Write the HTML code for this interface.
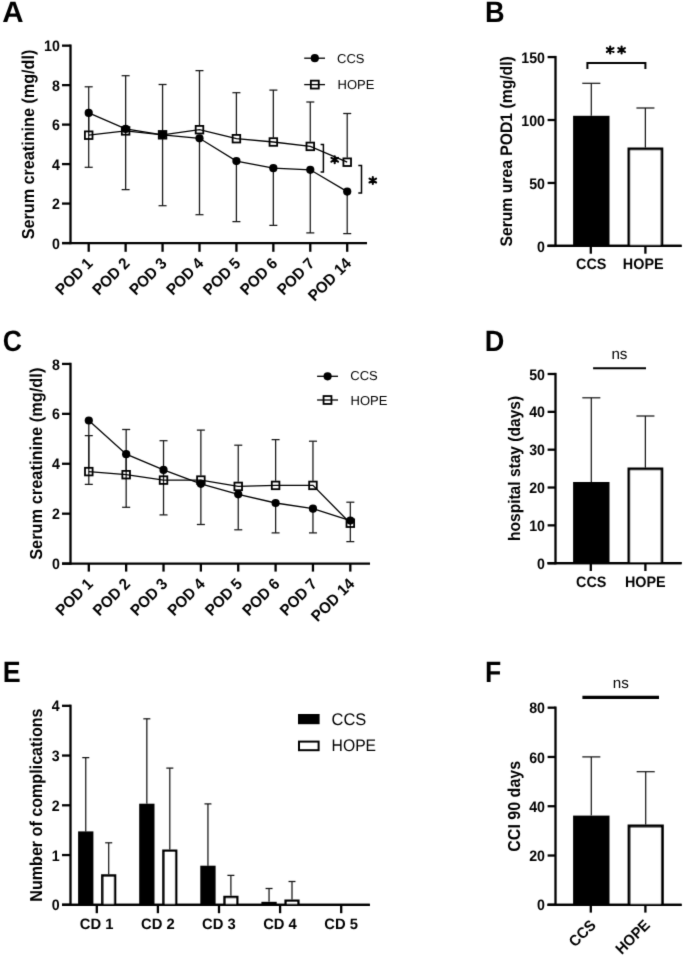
<!DOCTYPE html>
<html><head><meta charset="utf-8"><style>
html,body{margin:0;padding:0;background:#fff;}
svg{display:block;font-family:"Liberation Sans", sans-serif;will-change:transform;text-rendering:geometricPrecision;}
</style></head><body>
<svg width="685" height="958" viewBox="0 0 685 958">
<defs><filter id="soft" x="0" y="0" width="685" height="958" filterUnits="userSpaceOnUse"><feConvolveMatrix order="3" kernelMatrix="0.0114 0.0841 0.0114 0.0841 0.6180 0.0841 0.0114 0.0841 0.0114" edgeMode="duplicate" preserveAlpha="false"/></filter></defs>
<rect width="685" height="958" fill="#fff"/>
<g filter="url(#soft)">
<line x1="62.00" y1="243.05" x2="367.00" y2="243.05" stroke="#000" stroke-width="2.3" stroke-linecap="butt"/>
<line x1="70.50" y1="44.50" x2="70.50" y2="244.20" stroke="#000" stroke-width="2.3" stroke-linecap="butt"/>
<line x1="62.00" y1="243.05" x2="70.50" y2="243.05" stroke="#000" stroke-width="2.3" stroke-linecap="butt"/>
<text transform="translate(59.90 248.70) scale(0.935 1)" font-size="15.2" font-weight="bold" text-anchor="end">0</text>
<line x1="62.00" y1="203.57" x2="70.50" y2="203.57" stroke="#000" stroke-width="2.3" stroke-linecap="butt"/>
<text transform="translate(59.90 209.22) scale(0.935 1)" font-size="15.2" font-weight="bold" text-anchor="end">2</text>
<line x1="62.00" y1="164.09" x2="70.50" y2="164.09" stroke="#000" stroke-width="2.3" stroke-linecap="butt"/>
<text transform="translate(59.90 169.74) scale(0.935 1)" font-size="15.2" font-weight="bold" text-anchor="end">4</text>
<line x1="62.00" y1="124.61" x2="70.50" y2="124.61" stroke="#000" stroke-width="2.3" stroke-linecap="butt"/>
<text transform="translate(59.90 130.26) scale(0.935 1)" font-size="15.2" font-weight="bold" text-anchor="end">6</text>
<line x1="62.00" y1="85.13" x2="70.50" y2="85.13" stroke="#000" stroke-width="2.3" stroke-linecap="butt"/>
<text transform="translate(59.90 90.78) scale(0.935 1)" font-size="15.2" font-weight="bold" text-anchor="end">8</text>
<line x1="62.00" y1="45.65" x2="70.50" y2="45.65" stroke="#000" stroke-width="2.3" stroke-linecap="butt"/>
<text transform="translate(59.90 51.30) scale(0.935 1)" font-size="15.2" font-weight="bold" text-anchor="end">10</text>
<line x1="88.70" y1="130.60" x2="88.70" y2="86.80" stroke="#151515" stroke-width="1.25" stroke-linecap="butt"/>
<line x1="88.70" y1="112.90" x2="88.70" y2="167.30" stroke="#151515" stroke-width="1.25" stroke-linecap="butt"/>
<line x1="84.70" y1="86.80" x2="92.70" y2="86.80" stroke="#151515" stroke-width="1.25" stroke-linecap="butt"/>
<line x1="84.70" y1="167.30" x2="92.70" y2="167.30" stroke="#151515" stroke-width="1.25" stroke-linecap="butt"/>
<line x1="125.63" y1="126.30" x2="125.63" y2="75.70" stroke="#151515" stroke-width="1.25" stroke-linecap="butt"/>
<line x1="125.63" y1="128.90" x2="125.63" y2="189.60" stroke="#151515" stroke-width="1.25" stroke-linecap="butt"/>
<line x1="121.63" y1="75.70" x2="129.63" y2="75.70" stroke="#151515" stroke-width="1.25" stroke-linecap="butt"/>
<line x1="121.63" y1="189.60" x2="129.63" y2="189.60" stroke="#151515" stroke-width="1.25" stroke-linecap="butt"/>
<line x1="162.56" y1="130.20" x2="162.56" y2="84.50" stroke="#151515" stroke-width="1.25" stroke-linecap="butt"/>
<line x1="162.56" y1="134.80" x2="162.56" y2="205.70" stroke="#151515" stroke-width="1.25" stroke-linecap="butt"/>
<line x1="158.56" y1="84.50" x2="166.56" y2="84.50" stroke="#151515" stroke-width="1.25" stroke-linecap="butt"/>
<line x1="158.56" y1="205.70" x2="166.56" y2="205.70" stroke="#151515" stroke-width="1.25" stroke-linecap="butt"/>
<line x1="199.49" y1="125.10" x2="199.49" y2="70.60" stroke="#151515" stroke-width="1.25" stroke-linecap="butt"/>
<line x1="199.49" y1="138.30" x2="199.49" y2="214.70" stroke="#151515" stroke-width="1.25" stroke-linecap="butt"/>
<line x1="195.49" y1="70.60" x2="203.49" y2="70.60" stroke="#151515" stroke-width="1.25" stroke-linecap="butt"/>
<line x1="195.49" y1="214.70" x2="203.49" y2="214.70" stroke="#151515" stroke-width="1.25" stroke-linecap="butt"/>
<line x1="236.42" y1="134.10" x2="236.42" y2="92.70" stroke="#151515" stroke-width="1.25" stroke-linecap="butt"/>
<line x1="236.42" y1="161.10" x2="236.42" y2="221.60" stroke="#151515" stroke-width="1.25" stroke-linecap="butt"/>
<line x1="232.42" y1="92.70" x2="240.42" y2="92.70" stroke="#151515" stroke-width="1.25" stroke-linecap="butt"/>
<line x1="232.42" y1="221.60" x2="240.42" y2="221.60" stroke="#151515" stroke-width="1.25" stroke-linecap="butt"/>
<line x1="273.35" y1="137.40" x2="273.35" y2="90.10" stroke="#151515" stroke-width="1.25" stroke-linecap="butt"/>
<line x1="273.35" y1="168.20" x2="273.35" y2="225.40" stroke="#151515" stroke-width="1.25" stroke-linecap="butt"/>
<line x1="269.35" y1="90.10" x2="277.35" y2="90.10" stroke="#151515" stroke-width="1.25" stroke-linecap="butt"/>
<line x1="269.35" y1="225.40" x2="277.35" y2="225.40" stroke="#151515" stroke-width="1.25" stroke-linecap="butt"/>
<line x1="310.28" y1="141.80" x2="310.28" y2="102.00" stroke="#151515" stroke-width="1.25" stroke-linecap="butt"/>
<line x1="310.28" y1="169.80" x2="310.28" y2="232.90" stroke="#151515" stroke-width="1.25" stroke-linecap="butt"/>
<line x1="306.28" y1="102.00" x2="314.28" y2="102.00" stroke="#151515" stroke-width="1.25" stroke-linecap="butt"/>
<line x1="306.28" y1="232.90" x2="314.28" y2="232.90" stroke="#151515" stroke-width="1.25" stroke-linecap="butt"/>
<line x1="347.21" y1="157.60" x2="347.21" y2="113.50" stroke="#151515" stroke-width="1.25" stroke-linecap="butt"/>
<line x1="347.21" y1="191.60" x2="347.21" y2="233.60" stroke="#151515" stroke-width="1.25" stroke-linecap="butt"/>
<line x1="343.21" y1="113.50" x2="351.21" y2="113.50" stroke="#151515" stroke-width="1.25" stroke-linecap="butt"/>
<line x1="343.21" y1="233.60" x2="351.21" y2="233.60" stroke="#151515" stroke-width="1.25" stroke-linecap="butt"/>
<line x1="88.70" y1="243.05" x2="88.70" y2="251.80" stroke="#000" stroke-width="2.3" stroke-linecap="butt"/>
<line x1="125.63" y1="243.05" x2="125.63" y2="251.80" stroke="#000" stroke-width="2.3" stroke-linecap="butt"/>
<line x1="162.56" y1="243.05" x2="162.56" y2="251.80" stroke="#000" stroke-width="2.3" stroke-linecap="butt"/>
<line x1="199.49" y1="243.05" x2="199.49" y2="251.80" stroke="#000" stroke-width="2.3" stroke-linecap="butt"/>
<line x1="236.42" y1="243.05" x2="236.42" y2="251.80" stroke="#000" stroke-width="2.3" stroke-linecap="butt"/>
<line x1="273.35" y1="243.05" x2="273.35" y2="251.80" stroke="#000" stroke-width="2.3" stroke-linecap="butt"/>
<line x1="310.28" y1="243.05" x2="310.28" y2="251.80" stroke="#000" stroke-width="2.3" stroke-linecap="butt"/>
<line x1="347.21" y1="243.05" x2="347.21" y2="251.80" stroke="#000" stroke-width="2.3" stroke-linecap="butt"/>
<polyline fill="none" stroke="#000" stroke-width="1.3" points="88.70,112.90 125.63,128.90 162.56,134.80 199.49,138.30 236.42,161.10 273.35,168.20 310.28,169.80 347.21,191.60"/>
<polyline fill="none" stroke="#000" stroke-width="1.3" points="88.70,135.20 125.63,130.90 162.56,134.80 199.49,129.70 236.42,138.70 273.35,142.00 310.28,146.40 347.21,162.20"/>
<circle cx="88.70" cy="112.90" r="4.1" fill="#000"/>
<circle cx="125.63" cy="128.90" r="4.1" fill="#000"/>
<circle cx="162.56" cy="134.80" r="4.1" fill="#000"/>
<circle cx="199.49" cy="138.30" r="4.1" fill="#000"/>
<circle cx="236.42" cy="161.10" r="4.1" fill="#000"/>
<circle cx="273.35" cy="168.20" r="4.1" fill="#000"/>
<circle cx="310.28" cy="169.80" r="4.1" fill="#000"/>
<circle cx="347.21" cy="191.60" r="4.1" fill="#000"/>
<rect x="84.90" y="131.40" width="7.60" height="7.60" fill="none" stroke="#000" stroke-width="1.8"/>
<rect x="121.83" y="127.10" width="7.60" height="7.60" fill="none" stroke="#000" stroke-width="1.8"/>
<rect x="158.76" y="131.00" width="7.60" height="7.60" fill="none" stroke="#000" stroke-width="1.8"/>
<rect x="195.69" y="125.90" width="7.60" height="7.60" fill="none" stroke="#000" stroke-width="1.8"/>
<rect x="232.62" y="134.90" width="7.60" height="7.60" fill="none" stroke="#000" stroke-width="1.8"/>
<rect x="269.55" y="138.20" width="7.60" height="7.60" fill="none" stroke="#000" stroke-width="1.8"/>
<rect x="306.48" y="142.60" width="7.60" height="7.60" fill="none" stroke="#000" stroke-width="1.8"/>
<rect x="343.41" y="158.40" width="7.60" height="7.60" fill="none" stroke="#000" stroke-width="1.8"/>
<text transform="translate(93.70 264.25) rotate(-45) scale(1 1.05)" font-size="15.0" font-weight="bold" text-anchor="end">POD 1</text>
<text transform="translate(130.63 264.25) rotate(-45) scale(1 1.05)" font-size="15.0" font-weight="bold" text-anchor="end">POD 2</text>
<text transform="translate(167.56 264.25) rotate(-45) scale(1 1.05)" font-size="15.0" font-weight="bold" text-anchor="end">POD 3</text>
<text transform="translate(204.49 264.25) rotate(-45) scale(1 1.05)" font-size="15.0" font-weight="bold" text-anchor="end">POD 4</text>
<text transform="translate(241.42 264.25) rotate(-45) scale(1 1.05)" font-size="15.0" font-weight="bold" text-anchor="end">POD 5</text>
<text transform="translate(278.35 264.25) rotate(-45) scale(1 1.05)" font-size="15.0" font-weight="bold" text-anchor="end">POD 6</text>
<text transform="translate(315.28 264.25) rotate(-45) scale(1 1.05)" font-size="15.0" font-weight="bold" text-anchor="end">POD 7</text>
<text transform="translate(352.21 264.25) rotate(-45) scale(1 1.05)" font-size="15.0" font-weight="bold" text-anchor="end">POD 14</text>
<line x1="304.20" y1="58.20" x2="325.00" y2="58.20" stroke="#000" stroke-width="1.3" stroke-linecap="butt"/>
<circle cx="314.80" cy="58.20" r="4.1" fill="#000"/>
<text transform="translate(337.00 62.60)" font-size="13" font-weight="normal" text-anchor="start">CCS</text>
<line x1="304.20" y1="84.60" x2="325.00" y2="84.60" stroke="#000" stroke-width="1.3" stroke-linecap="butt"/>
<rect x="310.85" y="80.65" width="7.90" height="7.90" fill="none" stroke="#000" stroke-width="1.8"/>
<text transform="translate(337.60 88.90)" font-size="13" font-weight="normal" text-anchor="start">HOPE</text>
<path d="M320.6 144.4H323.4V172H320.6" fill="none" stroke="#000" stroke-width="1.5"/>
<path d="M358.3 165.6H361.5V193H358.3" fill="none" stroke="#000" stroke-width="1.5"/>
<path d="M334.70 163.25L334.70 156.35M331.41 161.70L337.99 157.90M331.41 157.90L337.99 161.70" stroke="#000" stroke-width="2.1" stroke-linecap="round" fill="none"/>
<path d="M372.80 184.05L372.80 177.15M369.51 182.50L376.09 178.70M369.51 178.70L376.09 182.50" stroke="#000" stroke-width="2.1" stroke-linecap="round" fill="none"/>
<text transform="translate(2.30 22.30) scale(1.0 1)" font-size="29.5" font-weight="bold">A</text>
<text transform="translate(33.50 144.50) rotate(-90) scale(1 1.08)" font-size="16" font-weight="bold" text-anchor="middle" textLength="189.6" lengthAdjust="spacingAndGlyphs">Serum creatinine (mg/dl)</text>
<line x1="547.60" y1="245.90" x2="681.60" y2="245.90" stroke="#000" stroke-width="2.3" stroke-linecap="butt"/>
<line x1="555.50" y1="55.92" x2="555.50" y2="247.05" stroke="#000" stroke-width="2.3" stroke-linecap="butt"/>
<line x1="547.60" y1="245.90" x2="555.50" y2="245.90" stroke="#000" stroke-width="2.3" stroke-linecap="butt"/>
<text transform="translate(545.00 251.55) scale(0.935 1)" font-size="15.2" font-weight="bold" text-anchor="end">0</text>
<line x1="547.60" y1="182.96" x2="555.50" y2="182.96" stroke="#000" stroke-width="2.3" stroke-linecap="butt"/>
<text transform="translate(545.00 188.61) scale(0.935 1)" font-size="15.2" font-weight="bold" text-anchor="end">50</text>
<line x1="547.60" y1="120.01" x2="555.50" y2="120.01" stroke="#000" stroke-width="2.3" stroke-linecap="butt"/>
<text transform="translate(545.00 125.66) scale(0.935 1)" font-size="15.2" font-weight="bold" text-anchor="end">100</text>
<line x1="547.60" y1="57.07" x2="555.50" y2="57.07" stroke="#000" stroke-width="2.3" stroke-linecap="butt"/>
<text transform="translate(545.00 62.72) scale(0.935 1)" font-size="15.2" font-weight="bold" text-anchor="end">150</text>
<rect x="573.1" y="115.8" width="36.40" height="130.10" fill="#000"/>
<line x1="591.30" y1="83.30" x2="591.30" y2="115.80" stroke="#151515" stroke-width="1.25" stroke-linecap="butt"/>
<line x1="582.30" y1="83.30" x2="600.30" y2="83.30" stroke="#151515" stroke-width="1.25" stroke-linecap="butt"/>
<line x1="645.40" y1="108.00" x2="645.40" y2="147.50" stroke="#151515" stroke-width="1.25" stroke-linecap="butt"/>
<line x1="636.40" y1="108.00" x2="654.40" y2="108.00" stroke="#151515" stroke-width="1.25" stroke-linecap="butt"/>
<path d="M628.85 245.90V148.85H661.95V245.90" fill="#fff" stroke="#000" stroke-width="2.7"/>
<line x1="590.80" y1="245.90" x2="590.80" y2="253.70" stroke="#000" stroke-width="2.3" stroke-linecap="butt"/>
<line x1="645.40" y1="245.90" x2="645.40" y2="253.70" stroke="#000" stroke-width="2.3" stroke-linecap="butt"/>
<line x1="547.60" y1="245.90" x2="681.60" y2="245.90" stroke="#000" stroke-width="2.3" stroke-linecap="butt"/>
<path d="M587.4 69.1V63H645.4V69.1" fill="none" stroke="#000" stroke-width="2"/>
<path d="M610.20 53.45L610.20 46.55M606.91 51.90L613.49 48.10M606.91 48.10L613.49 51.90" stroke="#000" stroke-width="2.1" stroke-linecap="round" fill="none"/>
<path d="M621.60 53.45L621.60 46.55M618.31 51.90L624.89 48.10M618.31 48.10L624.89 51.90" stroke="#000" stroke-width="2.1" stroke-linecap="round" fill="none"/>
<text transform="translate(591.20 268.70) scale(1 1.05)" font-size="14.4" font-weight="bold" text-anchor="middle">CCS</text>
<text transform="translate(643.20 268.70) scale(1 1.05)" font-size="14.4" font-weight="bold" text-anchor="middle">HOPE</text>
<text transform="translate(484.90 22.20) scale(0.92 1)" font-size="29.5" font-weight="bold">B</text>
<text transform="translate(511.60 151.40) rotate(-90) scale(1 1.08)" font-size="15.5" font-weight="bold" text-anchor="middle" textLength="190.4" lengthAdjust="spacingAndGlyphs">Serum urea POD1 (mg/dl)</text>
<line x1="62.00" y1="563.60" x2="370.00" y2="563.60" stroke="#000" stroke-width="2.3" stroke-linecap="butt"/>
<line x1="70.50" y1="362.77" x2="70.50" y2="564.75" stroke="#000" stroke-width="2.3" stroke-linecap="butt"/>
<line x1="62.00" y1="563.60" x2="70.50" y2="563.60" stroke="#000" stroke-width="2.3" stroke-linecap="butt"/>
<text transform="translate(59.90 569.25) scale(0.935 1)" font-size="15.2" font-weight="bold" text-anchor="end">0</text>
<line x1="62.00" y1="513.68" x2="70.50" y2="513.68" stroke="#000" stroke-width="2.3" stroke-linecap="butt"/>
<text transform="translate(59.90 519.33) scale(0.935 1)" font-size="15.2" font-weight="bold" text-anchor="end">2</text>
<line x1="62.00" y1="463.76" x2="70.50" y2="463.76" stroke="#000" stroke-width="2.3" stroke-linecap="butt"/>
<text transform="translate(59.90 469.41) scale(0.935 1)" font-size="15.2" font-weight="bold" text-anchor="end">4</text>
<line x1="62.00" y1="413.84" x2="70.50" y2="413.84" stroke="#000" stroke-width="2.3" stroke-linecap="butt"/>
<text transform="translate(59.90 419.49) scale(0.935 1)" font-size="15.2" font-weight="bold" text-anchor="end">6</text>
<line x1="62.00" y1="363.92" x2="70.50" y2="363.92" stroke="#000" stroke-width="2.3" stroke-linecap="butt"/>
<text transform="translate(59.90 369.57) scale(0.935 1)" font-size="15.2" font-weight="bold" text-anchor="end">8</text>
<line x1="88.80" y1="467.00" x2="88.80" y2="435.60" stroke="#151515" stroke-width="1.25" stroke-linecap="butt"/>
<line x1="88.80" y1="420.50" x2="88.80" y2="484.40" stroke="#151515" stroke-width="1.25" stroke-linecap="butt"/>
<line x1="84.80" y1="435.60" x2="92.80" y2="435.60" stroke="#151515" stroke-width="1.25" stroke-linecap="butt"/>
<line x1="84.80" y1="484.40" x2="92.80" y2="484.40" stroke="#151515" stroke-width="1.25" stroke-linecap="butt"/>
<line x1="126.16" y1="470.10" x2="126.16" y2="429.50" stroke="#151515" stroke-width="1.25" stroke-linecap="butt"/>
<line x1="126.16" y1="454.20" x2="126.16" y2="507.30" stroke="#151515" stroke-width="1.25" stroke-linecap="butt"/>
<line x1="122.16" y1="429.50" x2="130.16" y2="429.50" stroke="#151515" stroke-width="1.25" stroke-linecap="butt"/>
<line x1="122.16" y1="507.30" x2="130.16" y2="507.30" stroke="#151515" stroke-width="1.25" stroke-linecap="butt"/>
<line x1="163.52" y1="475.50" x2="163.52" y2="440.70" stroke="#151515" stroke-width="1.25" stroke-linecap="butt"/>
<line x1="163.52" y1="469.90" x2="163.52" y2="514.90" stroke="#151515" stroke-width="1.25" stroke-linecap="butt"/>
<line x1="159.52" y1="440.70" x2="167.52" y2="440.70" stroke="#151515" stroke-width="1.25" stroke-linecap="butt"/>
<line x1="159.52" y1="514.90" x2="167.52" y2="514.90" stroke="#151515" stroke-width="1.25" stroke-linecap="butt"/>
<line x1="200.88" y1="475.50" x2="200.88" y2="430.10" stroke="#151515" stroke-width="1.25" stroke-linecap="butt"/>
<line x1="200.88" y1="483.80" x2="200.88" y2="524.50" stroke="#151515" stroke-width="1.25" stroke-linecap="butt"/>
<line x1="196.88" y1="430.10" x2="204.88" y2="430.10" stroke="#151515" stroke-width="1.25" stroke-linecap="butt"/>
<line x1="196.88" y1="524.50" x2="204.88" y2="524.50" stroke="#151515" stroke-width="1.25" stroke-linecap="butt"/>
<line x1="238.24" y1="481.80" x2="238.24" y2="445.20" stroke="#151515" stroke-width="1.25" stroke-linecap="butt"/>
<line x1="238.24" y1="494.30" x2="238.24" y2="529.80" stroke="#151515" stroke-width="1.25" stroke-linecap="butt"/>
<line x1="234.24" y1="445.20" x2="242.24" y2="445.20" stroke="#151515" stroke-width="1.25" stroke-linecap="butt"/>
<line x1="234.24" y1="529.80" x2="242.24" y2="529.80" stroke="#151515" stroke-width="1.25" stroke-linecap="butt"/>
<line x1="275.60" y1="480.80" x2="275.60" y2="439.60" stroke="#151515" stroke-width="1.25" stroke-linecap="butt"/>
<line x1="275.60" y1="503.00" x2="275.60" y2="532.90" stroke="#151515" stroke-width="1.25" stroke-linecap="butt"/>
<line x1="271.60" y1="439.60" x2="279.60" y2="439.60" stroke="#151515" stroke-width="1.25" stroke-linecap="butt"/>
<line x1="271.60" y1="532.90" x2="279.60" y2="532.90" stroke="#151515" stroke-width="1.25" stroke-linecap="butt"/>
<line x1="312.96" y1="480.80" x2="312.96" y2="441.20" stroke="#151515" stroke-width="1.25" stroke-linecap="butt"/>
<line x1="312.96" y1="508.70" x2="312.96" y2="532.90" stroke="#151515" stroke-width="1.25" stroke-linecap="butt"/>
<line x1="308.96" y1="441.20" x2="316.96" y2="441.20" stroke="#151515" stroke-width="1.25" stroke-linecap="butt"/>
<line x1="308.96" y1="532.90" x2="316.96" y2="532.90" stroke="#151515" stroke-width="1.25" stroke-linecap="butt"/>
<line x1="350.32" y1="518.60" x2="350.32" y2="502.20" stroke="#151515" stroke-width="1.25" stroke-linecap="butt"/>
<line x1="350.32" y1="520.60" x2="350.32" y2="541.60" stroke="#151515" stroke-width="1.25" stroke-linecap="butt"/>
<line x1="346.32" y1="502.20" x2="354.32" y2="502.20" stroke="#151515" stroke-width="1.25" stroke-linecap="butt"/>
<line x1="346.32" y1="541.60" x2="354.32" y2="541.60" stroke="#151515" stroke-width="1.25" stroke-linecap="butt"/>
<line x1="88.80" y1="563.60" x2="88.80" y2="571.60" stroke="#000" stroke-width="2.3" stroke-linecap="butt"/>
<line x1="126.16" y1="563.60" x2="126.16" y2="571.60" stroke="#000" stroke-width="2.3" stroke-linecap="butt"/>
<line x1="163.52" y1="563.60" x2="163.52" y2="571.60" stroke="#000" stroke-width="2.3" stroke-linecap="butt"/>
<line x1="200.88" y1="563.60" x2="200.88" y2="571.60" stroke="#000" stroke-width="2.3" stroke-linecap="butt"/>
<line x1="238.24" y1="563.60" x2="238.24" y2="571.60" stroke="#000" stroke-width="2.3" stroke-linecap="butt"/>
<line x1="275.60" y1="563.60" x2="275.60" y2="571.60" stroke="#000" stroke-width="2.3" stroke-linecap="butt"/>
<line x1="312.96" y1="563.60" x2="312.96" y2="571.60" stroke="#000" stroke-width="2.3" stroke-linecap="butt"/>
<line x1="350.32" y1="563.60" x2="350.32" y2="571.60" stroke="#000" stroke-width="2.3" stroke-linecap="butt"/>
<polyline fill="none" stroke="#000" stroke-width="1.3" points="88.80,420.50 126.16,454.20 163.52,469.90 200.88,483.80 238.24,494.30 275.60,503.00 312.96,508.70 350.32,520.60"/>
<polyline fill="none" stroke="#000" stroke-width="1.3" points="88.80,471.60 126.16,474.70 163.52,480.10 200.88,480.10 238.24,486.40 275.60,485.40 312.96,485.40 350.32,523.20"/>
<circle cx="88.80" cy="420.50" r="4.1" fill="#000"/>
<circle cx="126.16" cy="454.20" r="4.1" fill="#000"/>
<circle cx="163.52" cy="469.90" r="4.1" fill="#000"/>
<circle cx="200.88" cy="483.80" r="4.1" fill="#000"/>
<circle cx="238.24" cy="494.30" r="4.1" fill="#000"/>
<circle cx="275.60" cy="503.00" r="4.1" fill="#000"/>
<circle cx="312.96" cy="508.70" r="4.1" fill="#000"/>
<circle cx="350.32" cy="520.60" r="4.1" fill="#000"/>
<rect x="85.00" y="467.80" width="7.60" height="7.60" fill="none" stroke="#000" stroke-width="1.8"/>
<rect x="122.36" y="470.90" width="7.60" height="7.60" fill="none" stroke="#000" stroke-width="1.8"/>
<rect x="159.72" y="476.30" width="7.60" height="7.60" fill="none" stroke="#000" stroke-width="1.8"/>
<rect x="197.08" y="476.30" width="7.60" height="7.60" fill="none" stroke="#000" stroke-width="1.8"/>
<rect x="234.44" y="482.60" width="7.60" height="7.60" fill="none" stroke="#000" stroke-width="1.8"/>
<rect x="271.80" y="481.60" width="7.60" height="7.60" fill="none" stroke="#000" stroke-width="1.8"/>
<rect x="309.16" y="481.60" width="7.60" height="7.60" fill="none" stroke="#000" stroke-width="1.8"/>
<rect x="346.52" y="519.40" width="7.60" height="7.60" fill="none" stroke="#000" stroke-width="1.8"/>
<text transform="translate(93.80 584.80) rotate(-45) scale(1 1.05)" font-size="15.0" font-weight="bold" text-anchor="end">POD 1</text>
<text transform="translate(131.16 584.80) rotate(-45) scale(1 1.05)" font-size="15.0" font-weight="bold" text-anchor="end">POD 2</text>
<text transform="translate(168.52 584.80) rotate(-45) scale(1 1.05)" font-size="15.0" font-weight="bold" text-anchor="end">POD 3</text>
<text transform="translate(205.88 584.80) rotate(-45) scale(1 1.05)" font-size="15.0" font-weight="bold" text-anchor="end">POD 4</text>
<text transform="translate(243.24 584.80) rotate(-45) scale(1 1.05)" font-size="15.0" font-weight="bold" text-anchor="end">POD 5</text>
<text transform="translate(280.60 584.80) rotate(-45) scale(1 1.05)" font-size="15.0" font-weight="bold" text-anchor="end">POD 6</text>
<text transform="translate(317.96 584.80) rotate(-45) scale(1 1.05)" font-size="15.0" font-weight="bold" text-anchor="end">POD 7</text>
<text transform="translate(355.32 584.80) rotate(-45) scale(1 1.05)" font-size="15.0" font-weight="bold" text-anchor="end">POD 14</text>
<line x1="317.10" y1="376.30" x2="338.00" y2="376.30" stroke="#000" stroke-width="1.3" stroke-linecap="butt"/>
<circle cx="327.60" cy="376.30" r="4.1" fill="#000"/>
<text transform="translate(350.30 380.40)" font-size="13" font-weight="normal" text-anchor="start">CCS</text>
<line x1="317.10" y1="400.00" x2="338.00" y2="400.00" stroke="#000" stroke-width="1.3" stroke-linecap="butt"/>
<rect x="323.55" y="396.05" width="7.90" height="7.90" fill="none" stroke="#000" stroke-width="1.8"/>
<text transform="translate(350.60 404.50)" font-size="13" font-weight="normal" text-anchor="start">HOPE</text>
<text transform="translate(2.70 350.90) scale(0.9 1)" font-size="29.5" font-weight="bold">C</text>
<text transform="translate(41.90 463.75) rotate(-90) scale(1 1.08)" font-size="16" font-weight="bold" text-anchor="middle" textLength="192.2" lengthAdjust="spacingAndGlyphs">Serum creatinine (mg/dl)</text>
<line x1="547.60" y1="563.20" x2="681.60" y2="563.20" stroke="#000" stroke-width="2.3" stroke-linecap="butt"/>
<line x1="555.50" y1="372.85" x2="555.50" y2="564.35" stroke="#000" stroke-width="2.3" stroke-linecap="butt"/>
<line x1="547.60" y1="563.20" x2="555.50" y2="563.20" stroke="#000" stroke-width="2.3" stroke-linecap="butt"/>
<text transform="translate(545.00 568.85) scale(0.935 1)" font-size="15.2" font-weight="bold" text-anchor="end">0</text>
<line x1="547.60" y1="525.36" x2="555.50" y2="525.36" stroke="#000" stroke-width="2.3" stroke-linecap="butt"/>
<text transform="translate(545.00 531.01) scale(0.935 1)" font-size="15.2" font-weight="bold" text-anchor="end">10</text>
<line x1="547.60" y1="487.52" x2="555.50" y2="487.52" stroke="#000" stroke-width="2.3" stroke-linecap="butt"/>
<text transform="translate(545.00 493.17) scale(0.935 1)" font-size="15.2" font-weight="bold" text-anchor="end">20</text>
<line x1="547.60" y1="449.68" x2="555.50" y2="449.68" stroke="#000" stroke-width="2.3" stroke-linecap="butt"/>
<text transform="translate(545.00 455.33) scale(0.935 1)" font-size="15.2" font-weight="bold" text-anchor="end">30</text>
<line x1="547.60" y1="411.84" x2="555.50" y2="411.84" stroke="#000" stroke-width="2.3" stroke-linecap="butt"/>
<text transform="translate(545.00 417.49) scale(0.935 1)" font-size="15.2" font-weight="bold" text-anchor="end">40</text>
<line x1="547.60" y1="374.00" x2="555.50" y2="374.00" stroke="#000" stroke-width="2.3" stroke-linecap="butt"/>
<text transform="translate(545.00 379.65) scale(0.935 1)" font-size="15.2" font-weight="bold" text-anchor="end">50</text>
<rect x="573.1" y="482.0" width="36.40" height="81.20" fill="#000"/>
<line x1="591.30" y1="397.80" x2="591.30" y2="482.00" stroke="#151515" stroke-width="1.25" stroke-linecap="butt"/>
<line x1="582.30" y1="397.80" x2="600.30" y2="397.80" stroke="#151515" stroke-width="1.25" stroke-linecap="butt"/>
<line x1="645.40" y1="416.00" x2="645.40" y2="467.60" stroke="#151515" stroke-width="1.25" stroke-linecap="butt"/>
<line x1="636.40" y1="416.00" x2="654.40" y2="416.00" stroke="#151515" stroke-width="1.25" stroke-linecap="butt"/>
<path d="M628.85 563.20V468.95H661.95V563.20" fill="#fff" stroke="#000" stroke-width="2.7"/>
<line x1="590.80" y1="563.20" x2="590.80" y2="571.00" stroke="#000" stroke-width="2.3" stroke-linecap="butt"/>
<line x1="645.40" y1="563.20" x2="645.40" y2="571.00" stroke="#000" stroke-width="2.3" stroke-linecap="butt"/>
<line x1="547.60" y1="563.20" x2="681.60" y2="563.20" stroke="#000" stroke-width="2.3" stroke-linecap="butt"/>
<line x1="593.10" y1="368.30" x2="646.00" y2="368.30" stroke="#000" stroke-width="2" stroke-linecap="butt"/>
<text transform="translate(619.40 359.00)" font-size="15.2" font-weight="normal" text-anchor="middle">ns</text>
<text transform="translate(591.20 586.90) scale(1 1.05)" font-size="14.4" font-weight="bold" text-anchor="middle">CCS</text>
<text transform="translate(645.30 586.90) scale(1 1.05)" font-size="14.4" font-weight="bold" text-anchor="middle">HOPE</text>
<text transform="translate(484.80 351.10) scale(0.92 1)" font-size="29.5" font-weight="bold">D</text>
<text transform="translate(519.80 468.45) rotate(-90) scale(1 1.08)" font-size="15.5" font-weight="bold" text-anchor="middle" textLength="145.1" lengthAdjust="spacingAndGlyphs">hospital stay (days)</text>
<line x1="62.00" y1="904.80" x2="369.80" y2="904.80" stroke="#000" stroke-width="2.3" stroke-linecap="butt"/>
<line x1="70.50" y1="704.65" x2="70.50" y2="905.95" stroke="#000" stroke-width="2.3" stroke-linecap="butt"/>
<line x1="62.00" y1="904.80" x2="70.50" y2="904.80" stroke="#000" stroke-width="2.3" stroke-linecap="butt"/>
<text transform="translate(59.70 910.45) scale(0.935 1)" font-size="15.2" font-weight="bold" text-anchor="end">0</text>
<line x1="62.00" y1="855.05" x2="70.50" y2="855.05" stroke="#000" stroke-width="2.3" stroke-linecap="butt"/>
<text transform="translate(59.70 860.70) scale(0.935 1)" font-size="15.2" font-weight="bold" text-anchor="end">1</text>
<line x1="62.00" y1="805.30" x2="70.50" y2="805.30" stroke="#000" stroke-width="2.3" stroke-linecap="butt"/>
<text transform="translate(59.70 810.95) scale(0.935 1)" font-size="15.2" font-weight="bold" text-anchor="end">2</text>
<line x1="62.00" y1="755.55" x2="70.50" y2="755.55" stroke="#000" stroke-width="2.3" stroke-linecap="butt"/>
<text transform="translate(59.70 761.20) scale(0.935 1)" font-size="15.2" font-weight="bold" text-anchor="end">3</text>
<line x1="62.00" y1="705.80" x2="70.50" y2="705.80" stroke="#000" stroke-width="2.3" stroke-linecap="butt"/>
<text transform="translate(59.70 711.45) scale(0.935 1)" font-size="15.2" font-weight="bold" text-anchor="end">4</text>
<line x1="85.75" y1="757.60" x2="85.75" y2="831.40" stroke="#151515" stroke-width="1.25" stroke-linecap="butt"/>
<line x1="82.25" y1="757.60" x2="89.25" y2="757.60" stroke="#151515" stroke-width="1.25" stroke-linecap="butt"/>
<line x1="108.70" y1="842.80" x2="108.70" y2="874.30" stroke="#151515" stroke-width="1.25" stroke-linecap="butt"/>
<line x1="105.20" y1="842.80" x2="112.20" y2="842.80" stroke="#151515" stroke-width="1.25" stroke-linecap="butt"/>
<rect x="78.10" y="831.4" width="15.30" height="73.40" fill="#000"/>
<path d="M102.35 904.80V875.55H115.05V904.80" fill="#fff" stroke="#000" stroke-width="2.5"/>
<line x1="146.85" y1="718.80" x2="146.85" y2="803.70" stroke="#151515" stroke-width="1.25" stroke-linecap="butt"/>
<line x1="143.35" y1="718.80" x2="150.35" y2="718.80" stroke="#151515" stroke-width="1.25" stroke-linecap="butt"/>
<line x1="169.80" y1="768.10" x2="169.80" y2="849.50" stroke="#151515" stroke-width="1.25" stroke-linecap="butt"/>
<line x1="166.30" y1="768.10" x2="173.30" y2="768.10" stroke="#151515" stroke-width="1.25" stroke-linecap="butt"/>
<rect x="139.20" y="803.7" width="15.30" height="101.10" fill="#000"/>
<path d="M163.45 904.80V850.75H176.15V904.80" fill="#fff" stroke="#000" stroke-width="2.5"/>
<line x1="207.95" y1="803.90" x2="207.95" y2="865.70" stroke="#151515" stroke-width="1.25" stroke-linecap="butt"/>
<line x1="204.45" y1="803.90" x2="211.45" y2="803.90" stroke="#151515" stroke-width="1.25" stroke-linecap="butt"/>
<line x1="230.90" y1="875.40" x2="230.90" y2="895.70" stroke="#151515" stroke-width="1.25" stroke-linecap="butt"/>
<line x1="227.40" y1="875.40" x2="234.40" y2="875.40" stroke="#151515" stroke-width="1.25" stroke-linecap="butt"/>
<rect x="200.30" y="865.7" width="15.30" height="39.10" fill="#000"/>
<path d="M224.55 904.80V896.95H237.25V904.80" fill="#fff" stroke="#000" stroke-width="2.5"/>
<line x1="269.05" y1="888.50" x2="269.05" y2="901.80" stroke="#151515" stroke-width="1.25" stroke-linecap="butt"/>
<line x1="265.55" y1="888.50" x2="272.55" y2="888.50" stroke="#151515" stroke-width="1.25" stroke-linecap="butt"/>
<line x1="292.00" y1="881.50" x2="292.00" y2="899.60" stroke="#151515" stroke-width="1.25" stroke-linecap="butt"/>
<line x1="288.50" y1="881.50" x2="295.50" y2="881.50" stroke="#151515" stroke-width="1.25" stroke-linecap="butt"/>
<rect x="261.40" y="901.8" width="15.30" height="3.00" fill="#000"/>
<path d="M285.65 904.80V900.85H298.35V904.80" fill="#fff" stroke="#000" stroke-width="2.5"/>
<line x1="62.00" y1="904.80" x2="369.80" y2="904.80" stroke="#000" stroke-width="2.3" stroke-linecap="butt"/>
<line x1="96.80" y1="904.80" x2="96.80" y2="913.20" stroke="#000" stroke-width="2.3" stroke-linecap="butt"/>
<text transform="translate(96.70 928.90) scale(1 1.02)" font-size="14.8" font-weight="bold" text-anchor="middle">CD 1</text>
<line x1="157.90" y1="904.80" x2="157.90" y2="913.20" stroke="#000" stroke-width="2.3" stroke-linecap="butt"/>
<text transform="translate(157.80 928.90) scale(1 1.02)" font-size="14.8" font-weight="bold" text-anchor="middle">CD 2</text>
<line x1="219.00" y1="904.80" x2="219.00" y2="913.20" stroke="#000" stroke-width="2.3" stroke-linecap="butt"/>
<text transform="translate(218.90 928.90) scale(1 1.02)" font-size="14.8" font-weight="bold" text-anchor="middle">CD 3</text>
<line x1="280.10" y1="904.80" x2="280.10" y2="913.20" stroke="#000" stroke-width="2.3" stroke-linecap="butt"/>
<text transform="translate(280.00 928.90) scale(1 1.02)" font-size="14.8" font-weight="bold" text-anchor="middle">CD 4</text>
<line x1="341.20" y1="904.80" x2="341.20" y2="913.20" stroke="#000" stroke-width="2.3" stroke-linecap="butt"/>
<text transform="translate(341.10 928.90) scale(1 1.02)" font-size="14.8" font-weight="bold" text-anchor="middle">CD 5</text>
<rect x="298" y="714" width="21.6" height="10.2" fill="#000"/>
<rect x="299" y="741.6" width="19.6" height="8.6" fill="none" stroke="#000" stroke-width="2"/>
<text transform="translate(331.50 724.50)" font-size="16.8" font-weight="normal" text-anchor="start" textLength="34.8" lengthAdjust="spacingAndGlyphs">CCS</text>
<text transform="translate(331.60 751.20)" font-size="16.8" font-weight="normal" text-anchor="start" textLength="44.5" lengthAdjust="spacingAndGlyphs">HOPE</text>
<text transform="translate(2.80 682.10) scale(0.91 1)" font-size="29.5" font-weight="bold">E</text>
<text transform="translate(41.80 805.10) rotate(-90) scale(1 1.08)" font-size="16" font-weight="bold" text-anchor="middle" textLength="193.2" lengthAdjust="spacingAndGlyphs">Number of complications</text>
<line x1="547.60" y1="904.80" x2="681.60" y2="904.80" stroke="#000" stroke-width="2.3" stroke-linecap="butt"/>
<line x1="555.50" y1="706.53" x2="555.50" y2="905.95" stroke="#000" stroke-width="2.3" stroke-linecap="butt"/>
<line x1="547.60" y1="904.80" x2="555.50" y2="904.80" stroke="#000" stroke-width="2.3" stroke-linecap="butt"/>
<text transform="translate(545.00 910.45) scale(0.935 1)" font-size="15.2" font-weight="bold" text-anchor="end">0</text>
<line x1="547.60" y1="855.52" x2="555.50" y2="855.52" stroke="#000" stroke-width="2.3" stroke-linecap="butt"/>
<text transform="translate(545.00 861.17) scale(0.935 1)" font-size="15.2" font-weight="bold" text-anchor="end">20</text>
<line x1="547.60" y1="806.24" x2="555.50" y2="806.24" stroke="#000" stroke-width="2.3" stroke-linecap="butt"/>
<text transform="translate(545.00 811.89) scale(0.935 1)" font-size="15.2" font-weight="bold" text-anchor="end">40</text>
<line x1="547.60" y1="756.96" x2="555.50" y2="756.96" stroke="#000" stroke-width="2.3" stroke-linecap="butt"/>
<text transform="translate(545.00 762.61) scale(0.935 1)" font-size="15.2" font-weight="bold" text-anchor="end">60</text>
<line x1="547.60" y1="707.68" x2="555.50" y2="707.68" stroke="#000" stroke-width="2.3" stroke-linecap="butt"/>
<text transform="translate(545.00 713.33) scale(0.935 1)" font-size="15.2" font-weight="bold" text-anchor="end">80</text>
<rect x="573.1" y="815.6" width="36.40" height="89.20" fill="#000"/>
<line x1="591.30" y1="756.90" x2="591.30" y2="815.60" stroke="#151515" stroke-width="1.25" stroke-linecap="butt"/>
<line x1="582.30" y1="756.90" x2="600.30" y2="756.90" stroke="#151515" stroke-width="1.25" stroke-linecap="butt"/>
<line x1="645.70" y1="771.70" x2="645.70" y2="824.60" stroke="#151515" stroke-width="1.25" stroke-linecap="butt"/>
<line x1="636.70" y1="771.70" x2="654.70" y2="771.70" stroke="#151515" stroke-width="1.25" stroke-linecap="butt"/>
<path d="M629.05 904.80V826.05H662.35V904.80" fill="#fff" stroke="#000" stroke-width="2.9"/>
<line x1="590.80" y1="904.80" x2="590.80" y2="912.60" stroke="#000" stroke-width="2.3" stroke-linecap="butt"/>
<line x1="645.40" y1="904.80" x2="645.40" y2="912.60" stroke="#000" stroke-width="2.3" stroke-linecap="butt"/>
<line x1="547.60" y1="904.80" x2="681.60" y2="904.80" stroke="#000" stroke-width="2.3" stroke-linecap="butt"/>
<line x1="582.40" y1="697.30" x2="659.00" y2="697.30" stroke="#000" stroke-width="3.2" stroke-linecap="butt"/>
<text transform="translate(620.70 687.90)" font-size="15.2" font-weight="normal" text-anchor="middle">ns</text>
<text transform="translate(596.90 926.00) rotate(-45) scale(1 1.05)" font-size="14.6" font-weight="bold" text-anchor="end">CCS</text>
<text transform="translate(650.90 926.00) rotate(-45) scale(1 1.05)" font-size="14.6" font-weight="bold" text-anchor="end">HOPE</text>
<text transform="translate(484.90 682.10) scale(0.9 1)" font-size="29.5" font-weight="bold">F</text>
<text transform="translate(520.30 806.30) rotate(-90) scale(1 1.08)" font-size="16" font-weight="bold" text-anchor="middle" textLength="90.8" lengthAdjust="spacingAndGlyphs">CCI 90 days</text>
</g>
</svg>
</body></html>
